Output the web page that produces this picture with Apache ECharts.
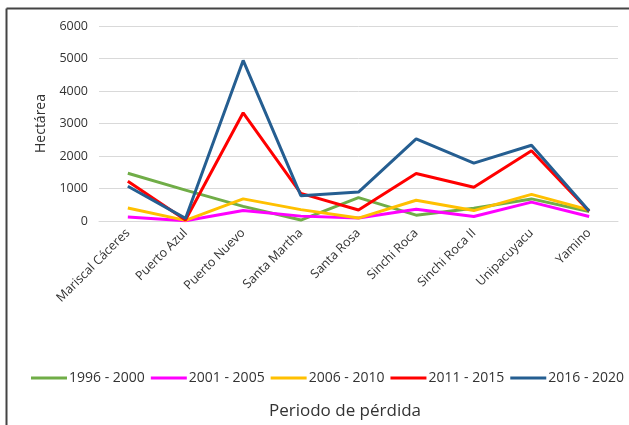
<!DOCTYPE html>
<html><head><meta charset="utf-8">
<script src="https://cdn.jsdelivr.net/npm/echarts@6/dist/echarts.min.js"></script>
<style>html,body{margin:0;padding:0;background:#fff}#c{width:629px;height:425px}</style>
</head><body><div id="c"></div>
<script>
const categories = ['Mariscal Cáceres','Puerto Azul','Puerto Nuevo','Santa Martha','Santa Rosa','Sinchi Roca','Sinchi Roca II','Unipacuyacu','Yamino'];
const yTicks = [0,1000,2000,3000,4000,5000,6000];
const s1996 = [1470, 950, 450, 30, 720, 180, 390, 680, 290];
const s2001 = [120, 10, 320, 150, 90, 360, 140, 580, 140];
const s2006 = [400, 20, 680, 350, 90, 640, 320, 820, 340];
const s2011 = [1220, 30, 3330, 850, 340, 1460, 1040, 2160, 300];
const s2016 = [1070, 80, 4940, 780, 890, 2530, 1780, 2330, 310];
const seriesNames = ['1996 - 2000','2001 - 2005','2006 - 2010','2011 - 2015','2016 - 2020'];
const seriesData = [s1996, s2001, s2006, s2011, s2016];
const colors = ['#70AD47','#FF00FF','#FFC000','#FF0000','#255E91'];

const chart = echarts.init(document.getElementById('c'));
const font = 'Open Sans';
const txt = '#333333';
chart.setOption({
  animation: false,
  color: colors,
  textStyle: {fontFamily: font},
  title: {text: 'Periodo de pérdida', left: 340, top: 398, textAlign: 'center',
    textStyle: {fontSize: 17, fontWeight: 'normal', color: txt, fontFamily: font}},
  legend: {
    top: 371, left: 31, width: 620, padding: 0, itemWidth: 36, itemHeight: 3, itemGap: 6, icon: 'rect',
    textStyle: {fontSize: 14, color: txt, fontFamily: font, padding: [0, 0, 0, -3]},
    data: seriesNames
  },
  grid: {left: 99, right: 11, top: 26, bottom: 204, containLabel: false},
  xAxis: {
    type: 'category', data: categories, boundaryGap: true,
    axisLine: {show: true, lineStyle: {color: '#d9d9d9'}},
    axisTick: {show: false},
    axisLabel: {rotate: 45, interval: 0, margin: 10, fontSize: 12.5, color: txt, fontFamily: font}
  },
  yAxis: {
    type: 'value', min: 0, max: 6000, interval: 1000,
    name: 'Hectárea', nameLocation: 'middle', nameGap: 50,
    nameTextStyle: {fontSize: 14, color: txt, fontFamily: font},
    axisLine: {show: false}, axisTick: {show: false},
    axisLabel: {margin: 11, fontSize: 12.5, color: txt, fontFamily: font,
      formatter: v => yTicks.includes(v) ? String(v) : ''},
    splitLine: {lineStyle: {color: '#d9d9d9', width: 1}}
  },
  graphic: [
    {type: 'line', shape: {x1: 6.5, y1: 8.5, x2: 629, y2: 8.5}, style: {stroke: '#444', lineWidth: 2}, silent: true},
    {type: 'line', shape: {x1: 6.5, y1: 8.5, x2: 6.5, y2: 425}, style: {stroke: '#444', lineWidth: 2}, silent: true}
  ],
  series: seriesNames.map((n, i) => ({
    name: n, type: 'line', data: seriesData[i], symbol: 'none',
    lineStyle: {width: 3, color: colors[i]}, itemStyle: {color: colors[i]}
  }))
});
</script></body></html>
